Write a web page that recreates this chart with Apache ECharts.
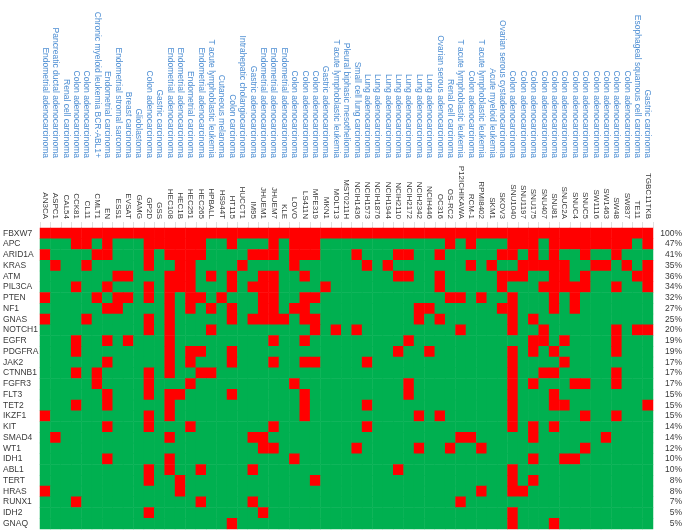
<!DOCTYPE html>
<html>
<head>
<meta charset="utf-8">
<script src="https://cdn.jsdelivr.net/npm/echarts@6/dist/echarts.min.js"></script>
<style>
  html, body { margin: 0; padding: 0; background: #fff; }
  #chart { width: 685px; height: 531px; }
</style>
</head>
<body>
<div id="chart"></div>
<script>
// cell lines (columns)
var cellLines = ["AN3CA", "ASPC1", "CAL54", "CCK81", "CL11", "CMLT1", "EN", "ESS1", "EVSAT", "GAMG",
  "GP2D", "GSS", "HEC108", "HEC1B", "HEC251", "HEC265", "HPBALL", "HS944T", "HT115", "HUCCT1",
  "IM95", "JHUEM1", "JHUEM7", "KLE", "LOVO", "LS411N", "MFE319", "MKN1", "MOLT13", "MST0211H",
  "NCIH1436", "NCIH1573", "NCIH1876", "NCIH1944", "NCIH2110", "NCIH2172", "NCIH2342", "NCIH446", "OC316", "OS-RC2",
  "P12ICHIKAWA", "RCM-1", "RPMI8402", "SKM1", "SKOV3", "SNU1040", "SNU1197", "SNU175", "SNU407", "SNU81",
  "SNUC2A", "SNUC4", "SNUC5", "SW1116", "SW1463", "SW48", "SW837", "TE11", "TGBC11TKB"];

var cancerTypes = ["Endometrial adenocarcinoma", "Pancreatic ductal adenocarcinoma", "Renal cell carcinoma",
  "Colon adenocarcinoma", "Colon adenocarcinoma", "Chronic myeloid leukemia BCR-ABL1+", "Endometrial carcinoma",
  "Endometrial stromal sarcoma", "Breast carcinoma", "Glioblastoma", "Colon adenocarcinoma", "Gastric carcinoma",
  "Endometrial adenocarcinoma", "Endometrial adenocarcinoma", "Endometrial carcinoma", "Endometrial adenocarcinoma",
  "T acute lymphoblastic leukemia", "Cutaneous melanoma", "Colon carcinoma", "Intrahepatic cholangiocarcinoma",
  "Gastric adenocarcinoma", "Endometrial adenocarcinoma", "Endometrial adenocarcinoma", "Endometrial adenocarcinoma",
  "Colon adenocarcinoma", "Colon adenocarcinoma", "Colon adenocarcinoma", "Gastric adenocarcinoma",
  "T acute lymphoblastic leukemia", "Pleural biphasic mesothelioma", "Small cell lung carcinoma",
  "Lung adenocarcinoma", "Lung adenocarcinoma", "Lung adenocarcinoma", "Lung adenocarcinoma", "Lung adenocarcinoma",
  "Lung adenocarcinoma", "Lung adenocarcinoma", "Ovarian serous adenocarcinoma", "Renal cell carcinoma",
  "T acute lymphoblastic leukemia", "Colon adenocarcinoma", "T acute lymphoblastic leukemia", "Acute myeloid leukemia",
  "Ovarian serous cystadenocarcinoma", "Colon adenocarcinoma", "Colon adenocarcinoma", "Colon adenocarcinoma",
  "Colon adenocarcinoma", "Colon adenocarcinoma", "Colon adenocarcinoma", "Colon adenocarcinoma", "Colon adenocarcinoma",
  "Colon adenocarcinoma", "Colon adenocarcinoma", "Colon adenocarcinoma", "Colon adenocarcinoma",
  "Esophageal squamous cell carcinoma", "Gastric carcinoma"];

// genes (rows) and mutation frequency
var genes = ["FBXW7", "APC", "ARID1A", "KRAS", "ATM", "PIL3CA", "PTEN", "NF1", "GNAS", "NOTCH1",
  "EGFR", "PDGFRA", "JAK2", "CTNNB1", "FGFR3", "FLT3", "TET2", "IKZF1", "KIT", "SMAD4",
  "WT1", "IDH1", "ABL1", "TERT", "HRAS", "RUNX1", "IDH2", "GNAQ"];
var freqLabels = ["100%", "47%", "41%", "35%", "36%", "34%", "32%", "27%", "25%", "20%",
  "19%", "19%", "17%", "17%", "17%", "15%", "15%", "15%", "14%", "14%",
  "12%", "10%", "10%", "8%", "8%", "7%", "5%", "5%"];

// mutated cell lines per gene (column numbers, 1-based)
var mutatedCols = [
  [1,2,3,4,5,6,7,8,9,10,11,12,13,14,15,16,17,18,19,20,21,22,23,24,25,26,27,28,29,30,
   31,32,33,34,35,36,37,38,39,40,41,42,43,44,45,46,47,48,49,50,51,52,53,54,55,56,57,58,59],
  [4,5,7,11,12,13,14,15,16,19,23,25,26,27,40,42,46,47,48,50,51,52,53,54,55,56,57,59],
  [1,6,7,11,13,14,15,16,21,22,23,25,26,27,31,35,36,39,45,46,48,50,53,56],
  [2,5,11,14,15,20,25,32,34,42,44,47,48,49,50,51,54,55,57,59],
  [8,9,13,14,15,17,19,22,23,26,35,36,39,45,46,47,50,51,53,58,59],
  [4,7,11,13,14,15,19,21,22,23,28,39,45,49,50,51,52,53,56,59],
  [1,6,8,9,11,13,15,16,18,22,23,26,27,40,41,43,46,50,52],
  [7,8,13,15,17,19,22,23,25,26,37,38,45,46,50,52],
  [1,5,11,13,19,21,22,23,24,26,27,37,39,46,48],
  [11,13,17,27,29,31,41,46,49,56,58,59],
  [4,7,9,13,23,26,36,48,49,51,56],
  [4,13,15,16,19,35,38,46,48,50,56],
  [7,13,15,19,23,26,27,32,46,51],
  [4,6,11,13,16,17,46,49,50,56],
  [6,11,15,25,36,46,48,52,53,56],
  [7,11,13,14,19,26,36,46,50],
  [4,7,13,26,32,46,50,51,59],
  [1,11,13,26,37,39,46,53,56],
  [7,11,15,23,32,46,48,50],
  [2,13,21,22,41,42,48,55],
  [22,23,31,37,40,43,53],
  [7,13,25,48,51,52],
  [11,13,16,21,35,46],
  [11,14,27,46,48],
  [1,14,43,46,47],
  [4,16,21,41],
  [11,22,46],
  [19,46,50]
];

var data = [];
genes.forEach(function (g, i) {
  cellLines.forEach(function (c, j) {
    data.push([j, i, mutatedCols[i].indexOf(j + 1) >= 0 ? 1 : 0]);
  });
});

var myChart = echarts.init(document.getElementById("chart"));
var font = "Liberation Sans";
var option = {
  animation: false,
  grid: { left: 39, right: 30, top: 228, bottom: 2 },
  xAxis: [
    {
      type: "category",
      data: cellLines,
      position: "top",
      axisLine: { show: false },
      axisTick: { show: true, length: 6, lineStyle: { color: "#e0e0e0" } },
      axisLabel: { interval: 0, rotate: 90, margin: 9, fontSize: 8, color: "#3a3a3a", fontFamily: font },
      splitLine: { show: false }
    },
    {
      type: "category",
      data: cellLines,
      position: "top",
      axisLine: { show: false },
      axisTick: { show: false },
      axisLabel: {
        interval: 0, rotate: 90, margin: 70, fontSize: 8.5, color: "#4f8fd3", fontFamily: font,
        formatter: function (v, i) { return cancerTypes[i]; }
      }
    }
  ],
  yAxis: [
    {
      type: "category",
      data: genes,
      inverse: true,
      axisLine: { show: false },
      axisTick: { show: false },
      axisLabel: { interval: 0, align: "left", margin: 37, fontSize: 8.5, color: "#3a3a3a", fontFamily: font }
    },
    {
      type: "category",
      data: genes,
      inverse: true,
      position: "right",
      axisLine: { show: false },
      axisTick: { show: false },
      axisLabel: {
        interval: 0, align: "right", margin: 29, fontSize: 8.5, color: "#3a3a3a", fontFamily: font,
        formatter: function (v, i) { return freqLabels[i]; }
      }
    }
  ],
  visualMap: {
    show: false,
    type: "piecewise",
    dimension: 2,
    pieces: [
      { value: 0, color: "#00b050" },
      { value: 1, color: "#ff0000" }
    ]
  },
  series: [
    {
      type: "heatmap",
      data: data,
      itemStyle: { borderWidth: 0 },
      emphasis: { disabled: true }
    }
  ]
};

option && myChart.setOption(option);
</script>
</body>
</html>
